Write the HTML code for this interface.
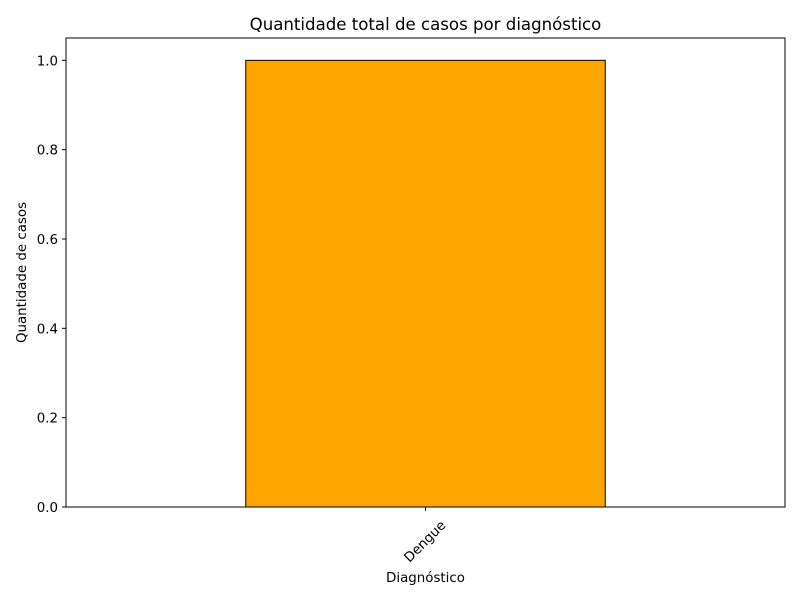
<!DOCTYPE html>
<html><head><meta charset="utf-8"><style>
body{margin:0;background:#fff;}
svg{display:block;font-family:"DejaVu Sans","Liberation Sans",sans-serif;}
</style></head><body>
<svg id="chart" width="800" height="600">
<rect width="800" height="600" fill="#fff"/>
<text x="425.5" y="30" font-size="16.6" text-anchor="middle">Quantidade total de casos por diagnóstico</text>
<g id="plot"></g>
<text x="425.5" y="582" font-size="13.4" text-anchor="middle">Diagnóstico</text>
<text transform="translate(26,272.5) rotate(-90)" font-size="13.4" text-anchor="middle">Quantidade de casos</text>
</svg>
<script>
const categories=["Dengue"];
const values=[1];
const yTicks=[0,0.2,0.4,0.6,0.8,1.0];
const yTickLabels=["0.0","0.2","0.4","0.6","0.8","1.0"];
const L=66,R=785,T=38,B=507,yMax=1.05;
const ns="http://www.w3.org/2000/svg";
const g=document.getElementById('plot');
function y(v){return B-(v/yMax)*(B-T);}
function x(i){const n=categories.length;return L+(i+0.5)*(R-L)/n;}
function mk(t,a){const e=document.createElementNS(ns,t);for(const k in a)e.setAttribute(k,a[k]);g.appendChild(e);return e;}
const bw=(R-L)/categories.length*0.5;
values.forEach((v,i)=>{
 const r=mk('rect',{x:x(i)-bw/2,y:y(v),width:bw,height:B-y(v),fill:'#ffa500',stroke:'#000','stroke-width':1});
 
 
 mk('line',{x1:x(i),x2:x(i),y1:B,y2:B+4,stroke:'#000'});
 const ax=x(i)+21, ay=B+19;
 const t=mk('text',{x:ax,y:ay,'font-size':13.4,'text-anchor':'end',transform:`rotate(-45 ${ax} ${ay})`});
 t.textContent=categories[i];
 
 
});
yTicks.forEach((v,i)=>{
 mk('line',{x1:L-4,x2:L,y1:y(v),y2:y(v),stroke:'#000'});
 const t=mk('text',{x:L-8,y:y(v)+5,'font-size':13.4,'text-anchor':'end'});
 t.textContent=yTickLabels[i];
 
 
});
const f=mk('rect',{x:L,y:T,width:R-L,height:B-T,fill:'none',stroke:'#000'});


</script>
</body></html>
